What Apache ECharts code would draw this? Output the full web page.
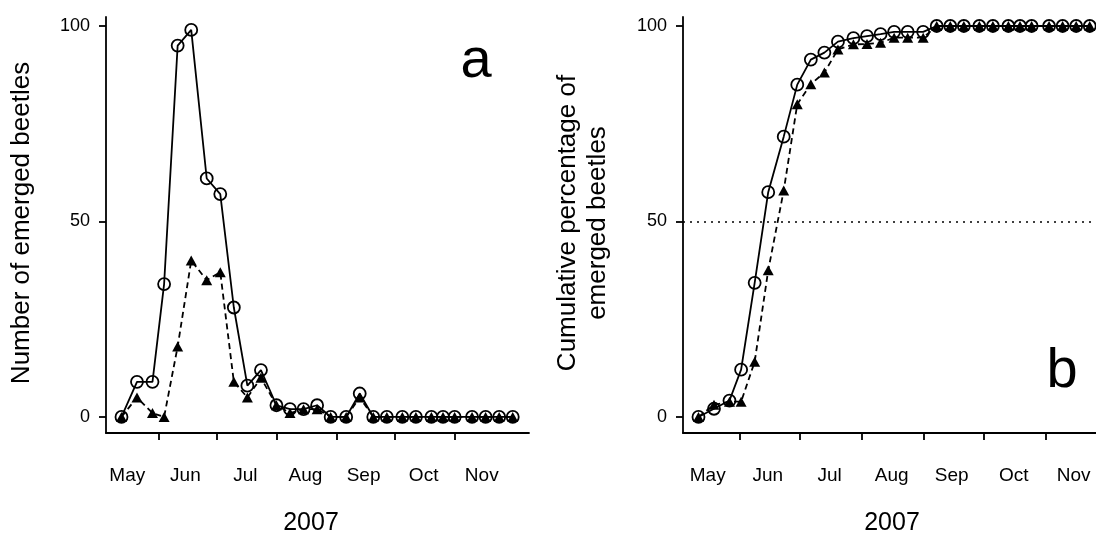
<!DOCTYPE html>
<html lang="en">
<head>
    <meta charset="UTF-8">
    <title>Emerged beetles 2007</title>
    <script src="https://cdn.jsdelivr.net/npm/echarts@6/dist/echarts.min.js"></script>
</head>
<style>
    html, body {
        margin: 0;
        padding: 0;
        background: #ffffff;
    }

    #chart {
        width: 1096px;
        height: 538px;
    }
</style>
<body>
<div id="chart"></div>
<script type="text/javascript">
    // sampling dates (weekly traps)
    const sampleDates = ['2007-05-13', '2007-05-21', '2007-05-29', '2007-06-04', '2007-06-11', '2007-06-18',
        '2007-06-26', '2007-07-03', '2007-07-10', '2007-07-17', '2007-07-24', '2007-08-01', '2007-08-08',
        '2007-08-15', '2007-08-22', '2007-08-29', '2007-09-06', '2007-09-13', '2007-09-20', '2007-09-27',
        '2007-10-05', '2007-10-12', '2007-10-20', '2007-10-26', '2007-11-01', '2007-11-10', '2007-11-17',
        '2007-11-24', '2007-12-01'];

    // panel a: number of emerged beetles
    const circleCounts = [0, 9, 9, 34, 95, 99, 61, 57, 28, 8, 12, 3, 2, 2, 3, 0, 0, 6, 0, 0, 0, 0, 0, 0, 0, 0, 0, 0, 0];
    const triangleCounts = [0, 5, 1, 0, 18, 40, 35, 37, 9, 5, 10, 3, 1, 2, 2, 0, 0, 5, 0, 0, 0, 0, 0, 0, 0, 0, 0, 0, 0];

    // panel b: cumulative percentage
    const circleCumPct = [0, 2.1, 4.2, 12.1, 34.3, 57.5, 71.7, 85.0, 91.4, 93.2, 96.0, 96.9, 97.4, 97.9, 98.5, 98.5,
        98.5, 100, 100, 100, 100, 100, 100, 100, 100, 100, 100, 100, 100];
    const triangleCumPct = [0, 3.1, 3.9, 3.9, 14.1, 37.5, 57.9, 80.0, 85.1, 88.1, 94.0, 95.3, 95.4, 95.7, 97.0, 97.0,
        97.0, 100, 100, 100, 100, 100, 100, 100, 100, 100, 100, 100, 100];

    // axis ticks / labels
    const monthStarts = ['2007-06-01', '2007-07-01', '2007-08-01', '2007-09-01', '2007-10-01', '2007-11-01'];
    const monthMids = ['2007-05-16', '2007-06-15', '2007-07-16', '2007-08-16', '2007-09-15', '2007-10-16', '2007-11-15'];
    const monthNames = ['May', 'Jun', 'Jul', 'Aug', 'Sep', 'Oct', 'Nov'];
    const yTicks = [0, 50, 100];

    function dayOfYear(s) {
        return (Date.parse(s + 'T00:00:00Z') - Date.UTC(2007, 0, 1)) / 86400000;
    }

    const days = sampleDates.map(dayOfYear);
    const tickDays = monthStarts.map(dayOfYear);
    const labelDays = monthMids.map(dayOfYear);

    function pairs(vals) {
        return days.map(function (d, i) {
            return [d, vals[i]];
        });
    }

    const FONT = 'Liberation Sans, Arial, Helvetica, sans-serif';
    const black = '#000';
    const LW = 1.8;

    function monthAxis(gridIndex, min, max, show) {
        return {
            type: 'value',
            gridIndex: gridIndex,
            position: 'bottom',
            min: min,
            max: max,
            show: show,
            splitLine: {show: false},
            axisLine: {onZero: false, lineStyle: {color: black, width: LW}},
            axisTick: {customValues: tickDays, length: 7, lineStyle: {color: black, width: LW}},
            axisLabel: {
                customValues: labelDays,
                margin: 33,
                color: black,
                fontSize: 19,
                fontFamily: FONT,
                formatter: function (v) {
                    return monthNames[labelDays.indexOf(v)];
                }
            }
        };
    }

    function countAxis(gridIndex) {
        return {
            type: 'value',
            gridIndex: gridIndex,
            min: -4.1,
            max: 102.3,
            splitLine: {show: false},
            axisLine: {show: true, onZero: false, lineStyle: {color: black, width: LW}},
            axisTick: {show: true, customValues: yTicks, length: 7, lineStyle: {color: black, width: LW}},
            axisLabel: {customValues: yTicks, margin: 16, color: black, fontSize: 18, fontFamily: FONT}
        };
    }

    function circleSeries(name, xi, yi, vals) {
        return {
            name: name,
            type: 'line',
            xAxisIndex: xi,
            yAxisIndex: yi,
            data: pairs(vals),
            symbol: 'circle',
            symbolSize: 12,
            itemStyle: {color: 'rgba(0,0,0,0)', borderColor: black, borderWidth: LW},
            lineStyle: {color: black, width: LW, type: 'solid'},
            z: 3
        };
    }

    function triangleSeries(name, xi, yi, vals) {
        return {
            name: name,
            type: 'line',
            xAxisIndex: xi,
            yAxisIndex: yi,
            data: pairs(vals),
            symbol: 'triangle',
            symbolSize: [11, 10],
            itemStyle: {color: black, borderWidth: 0},
            lineStyle: {color: black, width: LW, type: [6, 4]},
            z: 2
        };
    }

    const cumCircles = circleSeries('circles cumulative', 1, 1, circleCumPct);
    cumCircles.markLine = {
        silent: true,
        symbol: 'none',
        label: {show: false},
        lineStyle: {color: black, width: 1.6, type: [2, 5]},
        data: [{yAxis: 50}]
    };

    const option = {
        animation: false,
        backgroundColor: '#fff',
        grid: [
            {left: 106, top: 17, width: 423, height: 416, outerBoundsMode: 'none', containLabel: false},
            {left: 683, top: 17, width: 423, height: 416, outerBoundsMode: 'none', containLabel: false}
        ],
        xAxis: [
            monthAxis(0, 124, 342.4, true),
            monthAxis(1, 124, 342.4, false),
            monthAxis(1, 122.65, 334.15, true)
        ],
        yAxis: [countAxis(0), countAxis(1)],
        series: [
            triangleSeries('triangles', 0, 0, triangleCounts),
            circleSeries('circles', 0, 0, circleCounts),
            triangleSeries('triangles cumulative', 1, 1, triangleCumPct),
            cumCircles
        ],
        graphic: [
            {
                type: 'text', x: 22, y: 223, rotation: Math.PI / 2,
                style: {text: 'Number of emerged beetles', fontSize: 26, fontFamily: FONT, fill: black, align: 'center', verticalAlign: 'middle'}
            },
            {
                type: 'text', x: 583, y: 223, rotation: Math.PI / 2,
                style: {text: 'Cumulative percentage of\nemerged beetles', fontSize: 26, lineHeight: 30, fontFamily: FONT, fill: black, align: 'center', verticalAlign: 'middle'}
            },
            {
                type: 'text', x: 311, y: 523,
                style: {text: '2007', fontSize: 25, fontFamily: FONT, fill: black, align: 'center', verticalAlign: 'middle'}
            },
            {
                type: 'text', x: 892, y: 523,
                style: {text: '2007', fontSize: 25, fontFamily: FONT, fill: black, align: 'center', verticalAlign: 'middle'}
            },
            {
                type: 'text', x: 476, y: 62,
                style: {text: 'a', fontSize: 56, fontFamily: FONT, fill: black, align: 'center', verticalAlign: 'middle'}
            },
            {
                type: 'text', x: 1062, y: 372,
                style: {text: 'b', fontSize: 56, fontFamily: FONT, fill: black, align: 'center', verticalAlign: 'middle'}
            }
        ]
    };

    let myChart = echarts.init(document.getElementById('chart'));
    myChart.setOption(option);
</script>
</body>
</html>
